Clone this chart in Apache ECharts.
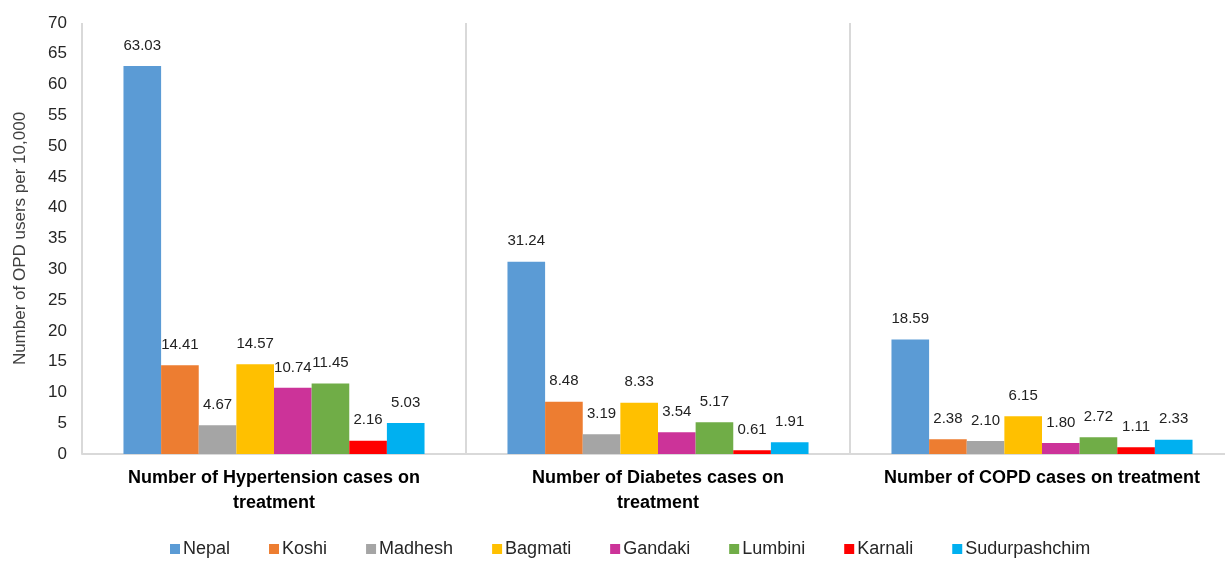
<!DOCTYPE html>
<html>
<head>
<meta charset="utf-8">
<script src="https://cdn.jsdelivr.net/npm/echarts@6/dist/echarts.min.js"></script>
<style>html,body{margin:0;padding:0;background:#fff}#c{width:1225px;height:562px}</style>
</head>
<body>
<div id="c"></div>
<script>
const categories = ["Number of Hypertension cases on\ntreatment", "Number of Diabetes cases on\ntreatment", "Number of COPD cases on treatment"];
const seriesNames = ["Nepal", "Koshi", "Madhesh", "Bagmati", "Gandaki", "Lumbini", "Karnali", "Sudurpashchim"];
const colors = ["#5b9bd5", "#ed7d31", "#a5a5a5", "#ffc000", "#cc3399", "#70ad47", "#ff0000", "#00b0f0"];
const nepal = [63.03, 31.24, 18.59];
const koshi = [14.41, 8.48, 2.38];
const madhesh = [4.67, 3.19, 2.10];
const bagmati = [14.57, 8.33, 6.15];
const gandaki = [10.74, 3.54, 1.80];
const lumbini = [11.45, 5.17, 2.72];
const karnali = [2.16, 0.61, 1.11];
const sudurpashchim = [5.03, 1.91, 2.33];
const values = [nepal, koshi, madhesh, bagmati, gandaki, lumbini, karnali, sudurpashchim];

const chart = echarts.init(document.getElementById('c'), null, {renderer: 'canvas'});
const font = 'Liberation Sans, Arial, sans-serif';
chart.setOption({
  animation: false,
  textStyle: {fontFamily: font},
  grid: {left: 82, top: 23, width: 1152, bottom: 108, containLabel: false, outerBoundsMode: 'none'},
  legend: {
    data: seriesNames, bottom: -1, left: 165, itemWidth: 10, itemHeight: 10, itemGap: 39,
    icon: 'rect',
    textStyle: {fontSize: 18, color: '#262626', fontFamily: font, padding: [0, 0, 0, -2]}
  },
  xAxis: {
    type: 'category', data: categories,
    axisLine: {lineStyle: {color: '#d9d9d9', width: 2}},
    axisTick: {show: false},
    splitLine: {show: true, lineStyle: {color: '#d9d9d9', width: 2}},
    axisLabel: {fontSize: 18, fontWeight: 'bold', color: '#000', lineHeight: 25, margin: 12, interval: 0}
  },
  yAxis: {
    type: 'value', min: 0, max: 70, interval: 5,
    name: 'Number of OPD users per 10,000', nameLocation: 'middle', nameGap: 53,
    nameTextStyle: {fontSize: 17, color: '#404040'},
    axisLine: {show: false}, axisTick: {show: false}, splitLine: {show: false},
    axisLabel: {fontSize: 17, color: '#262626', margin: 15}
  },
  series: seriesNames.map((n, i) => ({
    name: n, type: 'bar', data: values[i], barGap: '0%', barCategoryGap: '21.6%',
    itemStyle: {color: colors[i]},
    label: {show: true, position: 'top', distance: 13, fontSize: 15, color: '#222',
      formatter: p => Number(p.value).toFixed(2)}
  }))
});
</script>
</body>
</html>
